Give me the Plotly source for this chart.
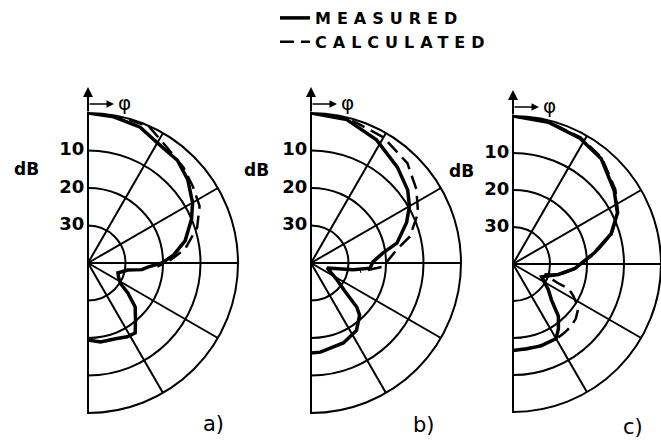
import plotly.graph_objects as go

# attenuation below peak, in dB, against angle phi (deg, 0 = up, clockwise)
a_meas_phi = [0, 10, 21, 30, 41, 50, 60, 67, 77, 85, 90, 94, 97, 100, 108, 115, 122, 127, 133, 140, 146, 152, 160, 171, 180]
a_meas_db = [0, 0.4, 1.2, 3.0, 3.7, 5.3, 7.8, 10.0, 13.4, 17.2, 20.3, 24.0, 25.5, 29.2, 31.6, 31.0, 29.9, 26.7, 22.8, 20.3, 17.5, 17.7, 18.5, 18.7, 19.5]
a_calc_phi = [0, 12, 24, 34, 45, 54, 63, 72, 82, 88, 93]
a_calc_db = [0, 0.1, 0.1, 2.6, 4.0, 5.4, 6.6, 9.4, 13.9, 18.1, 21.5]

b_meas_phi = [0, 14, 28, 42, 53, 60, 67, 77, 82, 89, 95, 99, 107, 123, 130, 134, 137, 146, 158, 174, 180]
b_meas_db = [0, 0.6, 2.8, 5.6, 7.7, 9.7, 12.3, 16.5, 20.6, 23.5, 24.2, 28.6, 35.5, 31.7, 28.0, 23.0, 21.0, 18.3, 17.0, 16.1, 16.0]
b_calc_phi = [0, 15, 30, 44, 55, 65, 75, 81, 93, 100]
b_calc_db = [0, 0.3, 1.3, 3.0, 5.7, 8.5, 12.7, 16.8, 20.8, 26.7]

c_meas_phi = [0, 14, 28, 40, 54, 64, 73, 82, 94, 103, 114, 126, 133, 139, 145, 150, 161, 171, 180]
c_meas_db = [0, 0.5, 1.5, 2.9, 6.2, 8.6, 12.3, 17.7, 23.2, 27.4, 31.5, 28.2, 25.8, 21.3, 18.6, 16.7, 16.6, 16.8, 16.6]
c_calc_phi = [0, 14, 28, 40, 54, 64, 73, 82, 94, 103, 108, 113, 114, 118, 124, 131, 137, 143, 150, 160, 170, 180]
c_calc_db = [0, 0.4, 1.2, 2.6, 5.8, 8.4, 12.1, 17.4, 23.0, 27.0, 31.0, 27.0, 23.5, 21.5, 18.7, 17.5, 17.0, 16.8, 16.6, 16.8, 16.7, 16.8]

ring_db = [10, 20, 30]
ring_labels = ["10", "20", "30"]
spoke_phi = [0, 30, 60, 90, 120, 150, 180]
panel_labels = ["a)", "b)", "c)"]

DB_RANGE = 40
W, H = 661, 446
FONT = "DejaVu Sans"

# panel centre (px) and radius (px)
panels = [
    (88, 263, 150, a_meas_phi, a_meas_db, a_calc_phi, a_calc_db),
    (311, 263, 150, b_meas_phi, b_meas_db, b_calc_phi, b_calc_db),
    (513, 264, 148, c_meas_phi, c_meas_db, c_calc_phi, c_calc_db),
]
label_pos = [(213, 424), (424, 425), (633, 427)]
db_pos = [(27, 169), (256, 170), (462, 171)]

fig = go.Figure()
layout = {}
annotations = []


def px(x, y):
    return x / W, 1 - y / H


def note(x, y, text, size, weight="normal"):
    nx, ny = px(x, y)
    return dict(x=nx, y=ny, xref="paper", yref="paper", text=text, showarrow=False,
                xanchor="center", yanchor="middle",
                font=dict(family=FONT, size=size, color="black", weight=weight))


for i, (cx, cy, R, mphi, mdb, cphi, cdb) in enumerate(panels):
    key = "polar" if i == 0 else f"polar{i + 1}"
    fig.add_trace(go.Scatterpolar(
        theta=mphi, r=[DB_RANGE - v for v in mdb], mode="lines",
        line=dict(color="black", width=3.5), name='<span style="letter-spacing:6px">MEASURED</span>',
        showlegend=(i == 0), subplot=key,
    ))
    fig.add_trace(go.Scatterpolar(
        theta=cphi, r=[DB_RANGE - v for v in cdb], mode="lines",
        line=dict(color="black", width=2.5, dash="14px,7px"),
        name='<span style="letter-spacing:6px">CALCULATED</span>',
        showlegend=(i == 0), subplot=key,
    ))
    # ring labels along the vertical axis
    fig.add_trace(go.Scatterpolar(
        theta=[0] * len(ring_db), r=[DB_RANGE - v for v in ring_db], mode="text",
        text=[s + "\u2009" for s in ring_labels], textposition="middle left", cliponaxis=False,
        textfont=dict(family=FONT, size=18, color="black", weight="bold"),
        showlegend=False, hoverinfo="skip", subplot=key,
    ))
    layout[key] = dict(
        domain=dict(x=[cx / W, min(1, (cx + R) / W)], y=[1 - (cy + R) / H, 1 - (cy - R) / H]),
        sector=[-90, 90],
        bgcolor="white",
        angularaxis=dict(
            rotation=90, direction="clockwise", tickvals=spoke_phi,
            showticklabels=False, ticks="", showgrid=True, gridcolor="black", gridwidth=2,
            showline=True, linecolor="black", linewidth=2,
        ),
        radialaxis=dict(
            range=[0, DB_RANGE], tickvals=[DB_RANGE - v for v in ring_db],
            showticklabels=False, showgrid=True, gridcolor="black", gridwidth=2,
            showline=False, ticks="",
        ),
    )
    # axis arrow and phi arrow
    hx, hy = px(cx, cy - R - 26)
    annotations.append(dict(x=hx, y=hy, xref="paper", yref="paper", text="", showarrow=True,
                            ax=0, ay=26, arrowhead=2, arrowwidth=2, arrowsize=1, arrowcolor="black"))
    hx, hy = px(cx + 26, cy - R - 9)
    annotations.append(dict(x=hx, y=hy, xref="paper", yref="paper", text="", showarrow=True,
                            ax=-26, ay=0, arrowhead=2, arrowwidth=1.5, arrowsize=1, arrowcolor="black"))
    annotations.append(note(cx + 36, cy - R - 10, "φ", 20))
    annotations.append(note(*db_pos[i], "dB", 17, "bold"))
    annotations.append(note(*label_pos[i], panel_labels[i], 21))

fig.update_layout(
    width=W, height=H,
    margin=dict(l=0, r=0, t=0, b=0),
    paper_bgcolor="white",
    showlegend=True,
    legend=dict(x=275 / W, y=1 - 1 / H, xanchor="left", yanchor="top",
                font=dict(family=FONT, size=16, color="black", weight="bold"),
                bgcolor="rgba(0,0,0,0)", itemwidth=30, tracegroupgap=0),
    annotations=annotations,
    **layout,
)

fig.write_html("out.html", config={"displayModeBar": False},
               post_script="document.body.style.margin='0';")
